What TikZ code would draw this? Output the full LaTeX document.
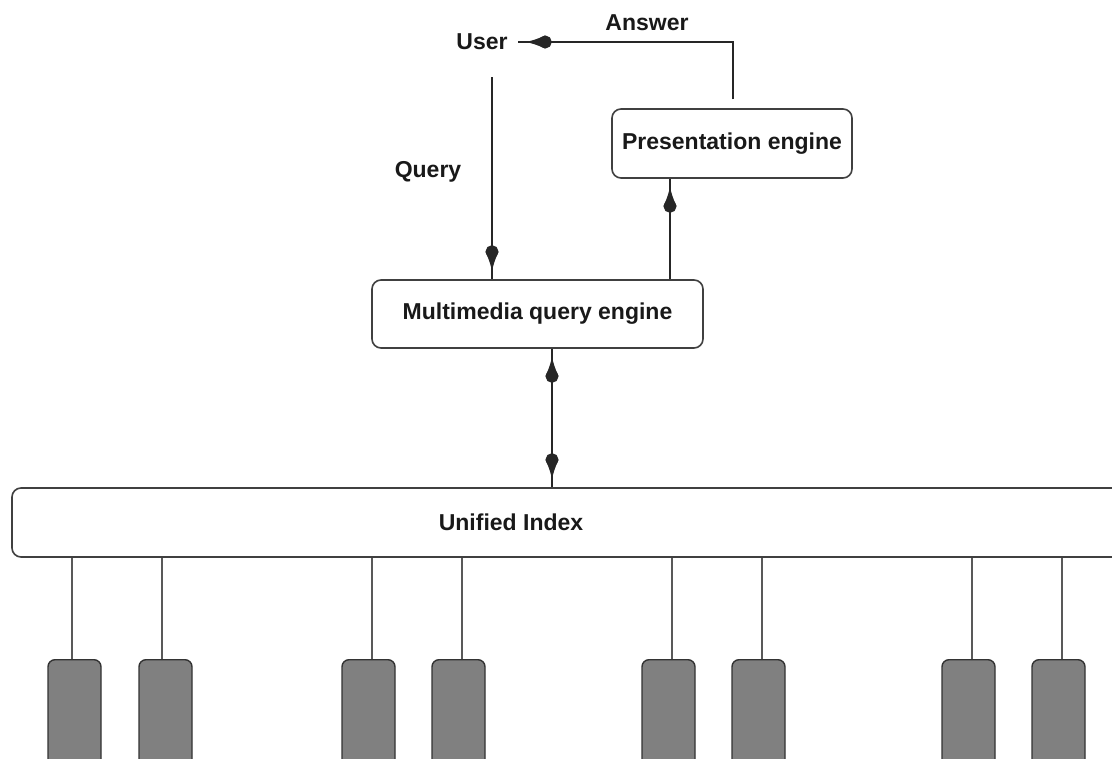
\documentclass[tikz,border=0pt]{standalone}
\usepackage{fontspec}
\setmainfont{Liberation Sans}
\usetikzlibrary{arrows.meta}
\begin{document}
\begin{tikzpicture}[x=1pt,y=-1pt,
  lbl/.style={font=\fontsize{23}{27}\selectfont\bfseries, inner sep=0pt, text=black!90},
  eng/.style={draw=black!75, line width=1.6pt, rounded corners=9pt, fill=white,
              font=\fontsize{23}{27}\selectfont\bfseries, inner sep=0pt, text=black!90},
  conn/.style={draw=black!85, line width=1.8pt},
  headend/.style={-{Circle[length=13pt,width=13pt,sep=-6pt]Latex[length=19pt,width=13pt]}, shorten >=8pt},
  headboth/.style={{Latex[length=19pt,width=13pt]Circle[length=13pt,width=13pt,sep=-6pt]}-{Circle[length=13pt,width=13pt,sep=-6pt]Latex[length=19pt,width=13pt]}, shorten >=8pt, shorten <=8pt},
  leg/.style={draw=black!65, line width=1.4pt},
  db/.style={draw=black!80, line width=1.4pt, fill=black!50, rounded corners=7pt,
             minimum width=53pt, minimum height=140pt, inner sep=0pt}
]
\useasboundingbox (0,0) rectangle (1112,759);
\clip (0,0) rectangle (1112,759);
\fill[white] (0,0) rectangle (1112,759);

% text labels
\node[lbl, inner sep=10pt] (user) at (482,42) {User};
\node[lbl] (ans) at (647,23) {Answer};
\node[lbl] (q) at (428,172) {Query};

% engines
\node[eng, minimum width=240pt, minimum height=69pt] (pres) at (732,143.5) {Presentation engine};
\node[eng, minimum width=331pt, minimum height=68pt] (mq) at (537.5,314) {Multimedia query engine};
\node[eng, minimum width=1113pt, minimum height=69pt] (ui) at (568.5,522.5) {};
\node[lbl] (uit) at (511,522) {Unified Index};

% connector x positions
\coordinate (ax) at (733,0);
\coordinate (qx) at (492,0);
\coordinate (px) at (670,0);
\coordinate (dx) at (552,0);

% answer: presentation -> user
\draw[conn, shorten <=9pt] (pres.north -| ax) |- (user.east);
\draw[conn, shorten <=9pt, headend] (pres.north -| ax) |- (user.east);
% query: user -> multimedia
\draw[conn, shorten <=17pt] (user.south -| qx) -- (mq.north -| qx);
\draw[conn, shorten <=17pt, headend] (user.south -| qx) -- (mq.north -| qx);
% multimedia -> presentation
\draw[conn] (mq.north -| px) -- (pres.south -| px);
\draw[conn, headend] (mq.north -| px) -- (pres.south -| px);
% multimedia <-> unified index
\draw[conn] (mq.south -| dx) -- (ui.north -| dx);
\draw[conn, headboth] (mq.south -| dx) -- (ui.north -| dx);

% sources
\foreach \i/\bx/\lx in {1/74.5/72, 2/165.5/162, 3/368.5/372, 4/458.5/462,
                        5/668.5/672, 6/758.5/762, 7/968.5/972, 8/1058.5/1062} {
  \node[db, anchor=north] (db\i) at (\bx,659) {};
  \coordinate (l\i) at (\lx,0);
  \draw[leg] (ui.south -| l\i) -- (db\i.north -| l\i);
}
\end{tikzpicture}
\end{document}
